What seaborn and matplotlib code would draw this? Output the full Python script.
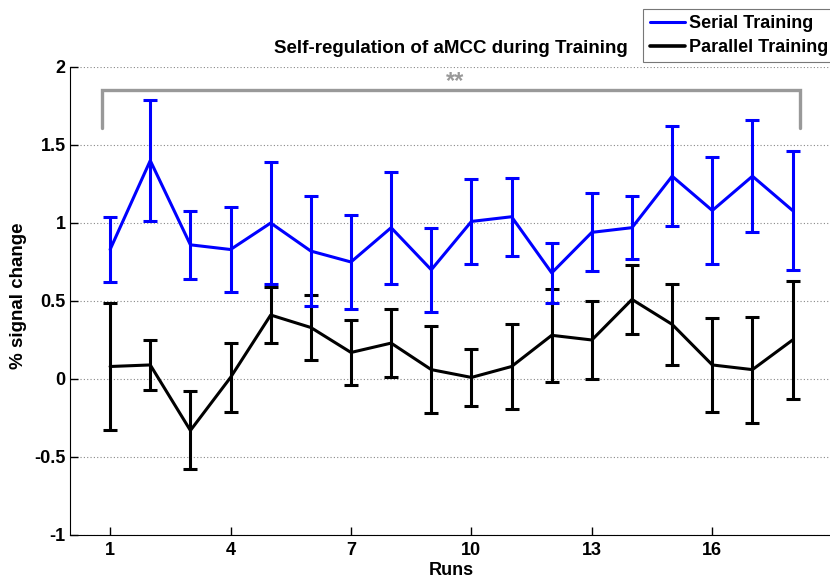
import numpy as np
import pandas as pd
import matplotlib
matplotlib.use("Agg")
import matplotlib.pyplot as plt
import seaborn as sns

runs = list(range(1, 19))
serial_mean = [0.83, 1.40, 0.86, 0.83, 1.00, 0.82, 0.75, 0.97, 0.70,
               1.01, 1.04, 0.68, 0.94, 0.97, 1.30, 1.08, 1.30, 1.08]
serial_err = [0.21, 0.39, 0.22, 0.27, 0.39, 0.35, 0.30, 0.36, 0.27,
              0.27, 0.25, 0.19, 0.25, 0.20, 0.32, 0.34, 0.36, 0.38]
parallel_mean = [0.08, 0.09, -0.33, 0.01, 0.41, 0.33, 0.17, 0.23, 0.06,
                 0.01, 0.08, 0.28, 0.25, 0.51, 0.35, 0.09, 0.06, 0.25]
parallel_err = [0.41, 0.16, 0.25, 0.22, 0.18, 0.21, 0.21, 0.22, 0.28,
                0.18, 0.27, 0.30, 0.25, 0.22, 0.26, 0.30, 0.34, 0.38]
x_ticks = [1, 4, 7, 10, 13, 16]
y_ticks = [-1, -0.5, 0, 0.5, 1, 1.5, 2]
y_ticklabels = ["-1", "-0.5", "0", "0.5", "1", "1.5", "2"]

sns.set_style("white", {"text.color": "black", "axes.labelcolor": "black",
                        "xtick.color": "black", "ytick.color": "black",
                        "xtick.bottom": True, "ytick.left": True})
plt.rcParams['font.family'] = ['Liberation Sans', 'DejaVu Sans']

df = pd.DataFrame({
    "run": runs * 2,
    "signal": serial_mean + parallel_mean,
    "group": ["Serial Training"] * 18 + ["Parallel Training"] * 18,
})
farger = {"Serial Training": "#0000ff", "Parallel Training": "black"}

fig = plt.figure(figsize=(8.3, 5.81), dpi=100)
ax = fig.add_axes([0.0843, 0.0792, 0.919, 0.8055])

# stiplet horisontalt rutenett
for yv in y_ticks:
    ax.axhline(yv, color="#888888", linestyle=(0, (1, 2)), linewidth=0.8, zorder=0)

# feilstolper
ax.errorbar(runs, serial_mean, yerr=serial_err, fmt="none", ecolor="#0000ff",
            elinewidth=2.2, capsize=4.8, capthick=2.2, zorder=3)
ax.errorbar(runs, parallel_mean, yerr=parallel_err, fmt="none", ecolor="black",
            elinewidth=2.2, capsize=4.8, capthick=2.2, zorder=2)

# gjennomsnittslinjer
sns.lineplot(data=df, x="run", y="signal", hue="group", palette=farger,
             linewidth=2.2, ax=ax, legend=False, zorder=4)

# signifikans-klamme
ax.plot([0.8, 0.8, 18.18, 18.18], [1.61, 1.85, 1.85, 1.61], color="#999999",
        linewidth=2.4, solid_joinstyle="miter", zorder=5)
ax.text(9.6, 1.83, "**", color="#999999", fontsize=17, fontweight="bold",
        ha="center", va="bottom")

ax.set_xlim(0, 19)
ax.set_ylim(-1, 2)
ax.set_xticks(x_ticks)
ax.set_yticks(y_ticks)
ax.set_yticklabels(y_ticklabels)
ax.tick_params(axis="both", direction="in", length=6, width=1, labelsize=13,
               pad=5, bottom=True, left=True, colors="black")
ax.tick_params(axis="y", pad=3)
for lbl in ax.get_xticklabels() + ax.get_yticklabels():
    lbl.set_fontweight("bold")
ax.spines["top"].set_visible(False)
ax.spines["right"].set_visible(False)
ax.spines["left"].set_color("black")
ax.spines["bottom"].set_color("black")

ax.set_xlabel("Runs", fontsize=13, fontweight="bold", labelpad=2)
ax.set_ylabel("% signal change", fontsize=13.5, fontweight="bold")
ax.yaxis.set_label_coords(-0.056, 0.511)
fig.text(0.5434, 0.917, "Self-regulation of aMCC during Training", ha="center",
         va="center", fontsize=13.5, fontweight="bold", color="black")

handles = [plt.Line2D([], [], color="#0000ff", linewidth=2.2),
           plt.Line2D([], [], color="black", linewidth=2.6)]
leg = fig.legend(handles, ["Serial Training", "Parallel Training"],
                 loc="upper left", bbox_to_anchor=(0.775, 0.985),
                 frameon=True, fancybox=False, borderpad=0.35,
                 labelspacing=0.38, handlelength=1.95, handletextpad=0.22,
                 borderaxespad=0, prop={"weight": "bold", "size": 13})
leg.get_frame().set_edgecolor("#555555")
leg.get_frame().set_linewidth(0.8)

fig.savefig("out.png", dpi=100)
